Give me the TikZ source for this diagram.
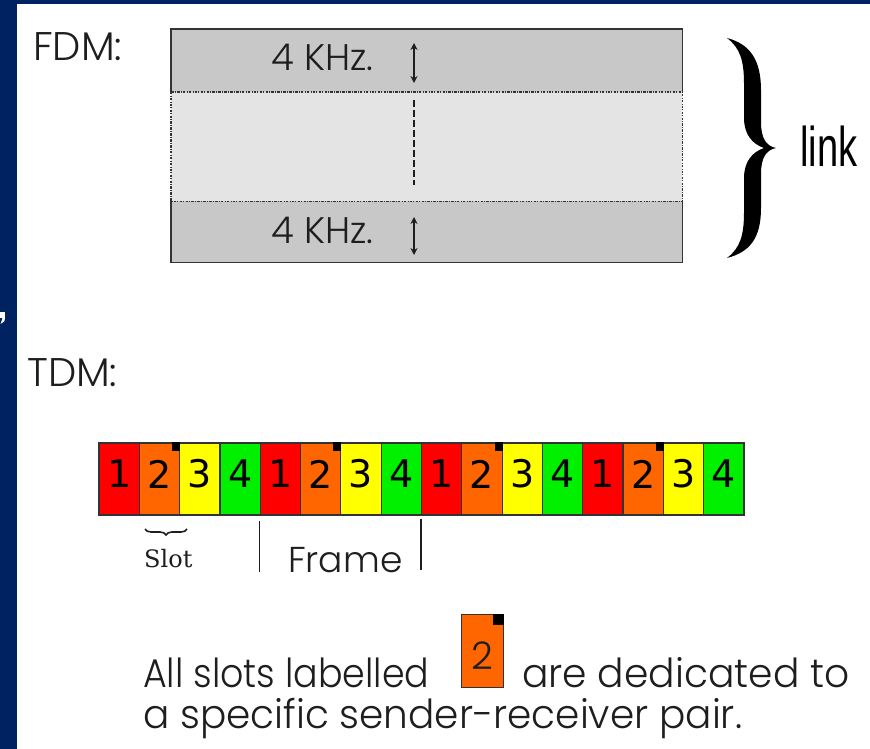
\documentclass[tikz,border=0pt]{standalone}
\usepackage{fontspec}
\setmainfont{Poppins Light}
\newfontfamily\digitfont{DejaVu Sans}
\newfontfamily\slotfont{DejaVu Serif}
\newfontfamily\linkfont{Liberation Sans}
\usetikzlibrary{decorations.pathreplacing,arrows.meta}

\definecolor{framenavy}{RGB}{0,34,96}
\definecolor{bandgray}{RGB}{200,200,200}
\definecolor{guardgray}{RGB}{228,228,228}
\definecolor{edgegray}{RGB}{51,51,51}
\definecolor{inkgray}{RGB}{30,30,30}
\definecolor{slotred}{RGB}{255,0,0}
\definecolor{slotorange}{RGB}{255,102,0}
\definecolor{slotyellow}{RGB}{255,255,0}
\definecolor{slotgreen}{RGB}{0,240,0}

\tikzset{
  caption/.style={inner sep=0pt, text=inkgray, anchor=base west},
  bigtext/.style={caption, font=\fontsize{40}{40}\selectfont},
  khztext/.style={caption, font=\fontsize{37}{37}\selectfont},
  bandbox/.style={inner sep=0pt, anchor=north west, fill=bandgray, minimum width=511},
  guardbox/.style={inner sep=0pt, anchor=north west, fill=guardgray, minimum width=511},
  solidedge/.style={draw=edgegray, line width=1.8pt},
  dotedge/.style={draw=edgegray, line width=1.7pt, dash pattern=on 2.5pt off 1.2pt on 1pt off 1.2pt},
  dblarrow/.style={draw=inkgray, line width=1.6pt, {Stealth[length=7pt,width=7pt]}-{Stealth[length=7pt,width=7pt]}},
  slotbox/.style={draw=edgegray, line width=1.2pt, minimum width=40.3125, minimum height=72, inner sep=0pt},
  digit/.style={inner sep=0pt, font=\digitfont\fontsize{38}{38}\selectfont, text=black},
  tab/.style={fill=black},
  tick/.style={draw=inkgray, line width=1.5pt},
}

\begin{document}
\begin{tikzpicture}[x=1pt,y=-1pt]
\useasboundingbox (0,0) rectangle (870,749);
% slide frame
\fill[framenavy] (0,0) rectangle (870,749);
\fill[white] (17,4) rectangle (870,749);
\fill[white] (0,312) rectangle (5,318);
\fill[white] (2.5,318) -- (5,318) .. controls (5,321) .. (0.5,324) -- cycle;

% ---------- FDM ----------
\node[bigtext] (fdm) at (33,61) {FDM:};

\node[bandbox, minimum height=63] (hi) at (171,29) {};
\node[guardbox, minimum height=109] (mid) at (171,92) {};
\node[bandbox, minimum height=61] (lo) at (171,201) {};
\draw[solidedge] (mid.north west) -- (hi.north west) -- (hi.north east) -- (mid.north east);
\draw[solidedge] (mid.south west) -- (lo.south west) -- (lo.south east) -- (mid.south east);
\draw[dotedge] (mid.north west) rectangle (mid.south east);

\node[khztext] (khzhi) at (271,71) {4 KHz.};
\node[khztext] (khzlo) at (271,243) {4 KHz.};
\coordinate (hiTop) at (414,43);
\coordinate (hiBot) at (414,83);
\coordinate (loTop) at (414,217);
\coordinate (loBot) at (414,255);
\draw[dblarrow] (hiTop) -- (hiBot);
\draw[dblarrow] (loTop) -- (loBot);
\coordinate (gapTop) at (414,100);
\coordinate (gapBot) at (414,185);
\draw[draw=inkgray, line width=1.6pt, dash pattern=on 7pt off 3pt] (gapTop) -- (gapBot);

% curly brace spanning the link
\fill[black] (727,38) .. controls (750,44) and (761,60) .. (761,90) -- (761,122)
  .. controls (761,138) and (766,146) .. (776,148)
  .. controls (766,150) and (761,158) .. (761,174) -- (761,208)
  .. controls (761,238) and (750,252) .. (727,258)
  .. controls (740,248) and (744,236) .. (744,212) -- (744,178)
  .. controls (744,162) and (752,152) .. (764,148)
  .. controls (752,144) and (744,134) .. (744,118) -- (744,84)
  .. controls (744,60) and (740,48) .. (727,38) -- cycle;
\node[caption, text=black, font=\linkfont\fontsize{56}{56}\selectfont, xscale=0.68] (link) at (800,167) {link};

% ---------- TDM ----------
\node[bigtext] (tdm) at (27,386) {TDM:};

\foreach \i/\c/\d in {1/slotred/1, 2/slotorange/2, 3/slotyellow/3, 4/slotgreen/4,
                      5/slotred/1, 6/slotorange/2, 7/slotyellow/3, 8/slotgreen/4,
                      9/slotred/1, 10/slotorange/2, 11/slotyellow/3, 12/slotgreen/4,
                      13/slotred/1, 14/slotorange/2, 15/slotyellow/3, 16/slotgreen/4} {
  \node[slotbox, fill=\c] (s\i) at ({99+40.3125*(\i-0.5)},479) {};
  \node[digit] (d\i) at ([yshift=5pt]s\i.center) {\d};
}
\foreach \i in {2,6,10,14} {
  \fill[tab] (s\i.north east) ++(-8,0) rectangle ++(8,9);
}

% slot brace and frame markers
\coordinate (slotL) at (145,529);
\coordinate (slotR) at (187,529);
\draw[draw=inkgray, line width=1.6pt, decorate, decoration={brace, mirror, amplitude=6pt}] (slotL) -- (slotR);
\node[caption, font=\slotfont\fontsize{24}{24}\selectfont] (slot) at (144,567) {Slot};

\coordinate (f1) at (s5.south west);
\coordinate (f2) at (s9.south west);
\draw[tick] ([yshift=-5pt]f1) -- ++(0,51);
\draw[tick] ([yshift=-3pt]f2) -- ++(0,51);
\node[caption, font=\fontsize{36}{36}\selectfont] (frame) at (288,572) {Frame};

% ---------- note ----------
\node[bigtext, xscale=0.91] (note1) at (143,687) {All slots labelled};
\node[slotbox, fill=slotorange, minimum width=42, minimum height=73, anchor=north west] (icon) at (461,614) {};
\fill[tab] (icon.north east) ++(-11,0) rectangle ++(11,11);
\node[inner sep=0pt, font=\fontsize{38}{38}\selectfont, text=inkgray] (icondigit) at ([yshift=-5pt]icon.center) {2};
\node[bigtext, xscale=0.98] (note2) at (522,687) {are dedicated to};
\node[bigtext, xscale=0.975] (note3) at (143,728) {a specific sender-receiver pair.};
\end{tikzpicture}
\end{document}
